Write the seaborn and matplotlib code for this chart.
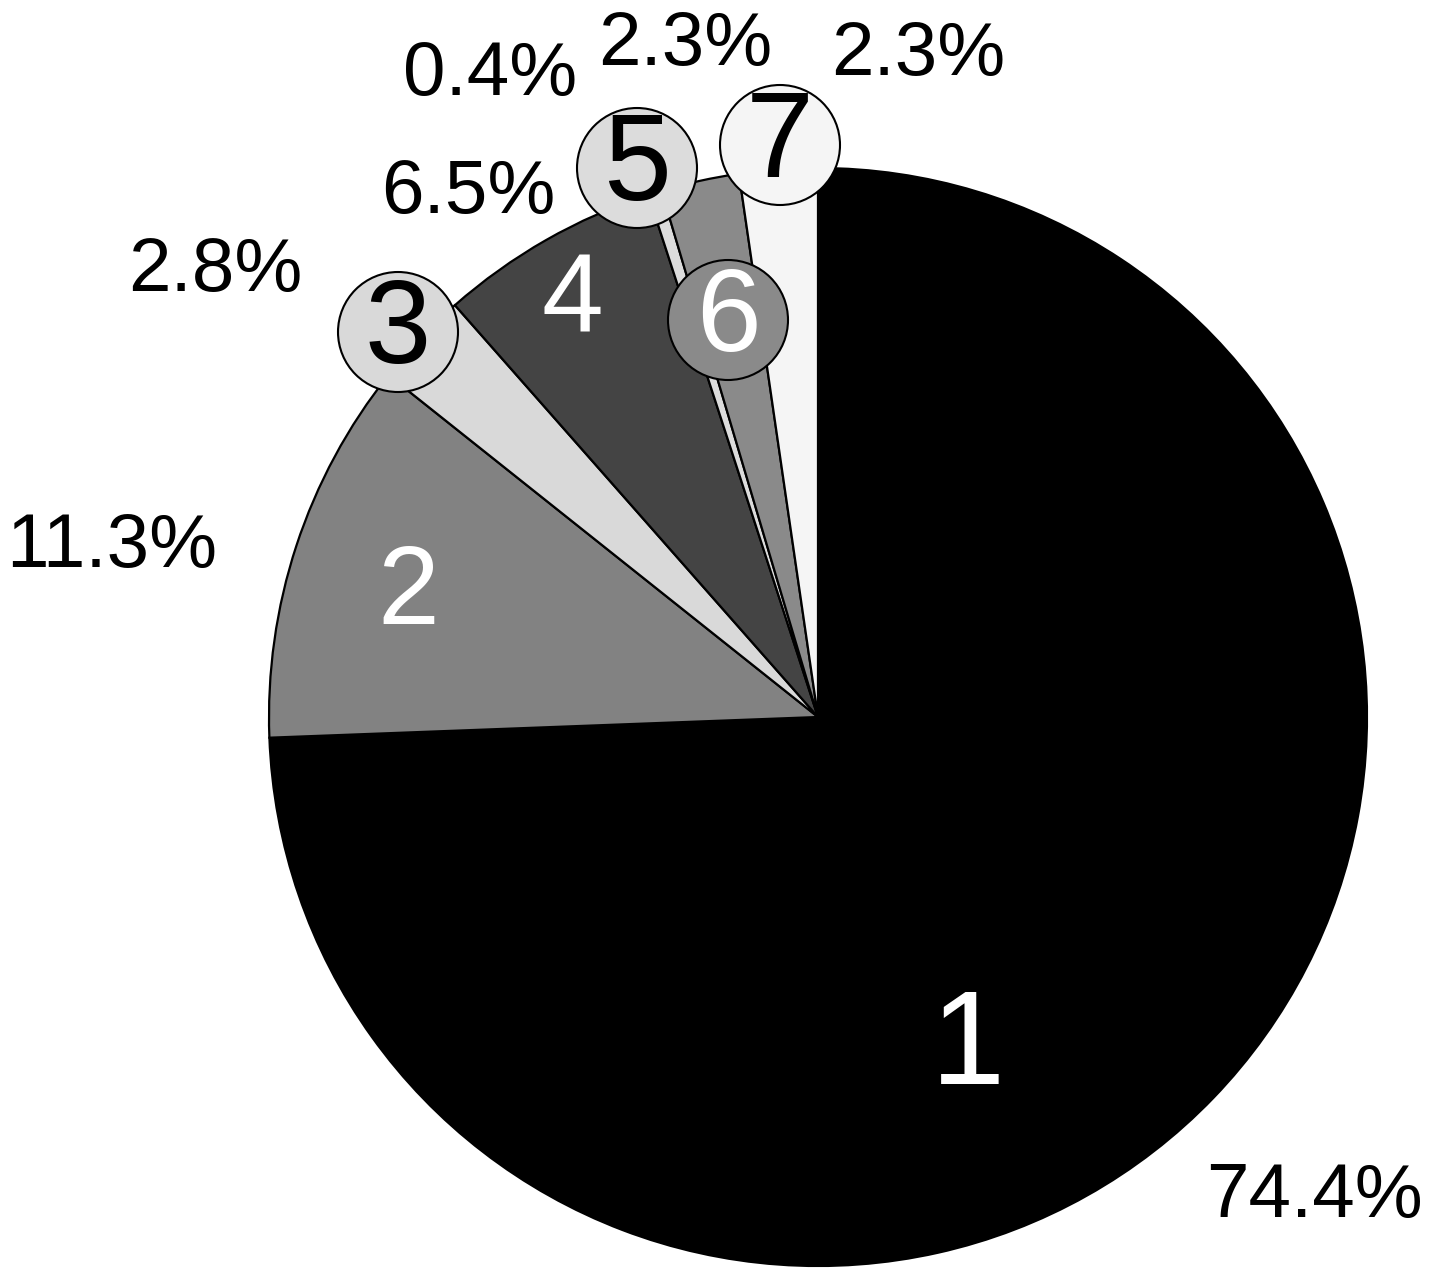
import matplotlib
matplotlib.use("Agg")
import matplotlib.pyplot as plt
from matplotlib.patches import Circle
import seaborn as sns

# ---- data ----
categories = ["1", "2", "3", "4", "5", "6", "7"]
shares = [74.4, 11.3, 2.8, 6.5, 0.4, 2.3, 2.3]
pct_labels = ["74.4%", "11.3%", "2.8%", "6.5%", "0.4%", "2.3%", "2.3%"]

# ---- style ----
sns.set_theme(style="white")
plt.rcParams["font.family"] = ["Liberation Sans", "DejaVu Sans"]

slice_colors = ["#000000", "#828282", "#d9d9d9", "#444444", "#dcdcdc", "#8a8a8a", "#f5f5f5"]
num_colors = ["white", "white", "black", "white", "black", "white", "black"]

W, H = 1434, 1279
fig = plt.figure(figsize=(W / 100, H / 100), dpi=100)
ax = fig.add_axes([0, 0, 1, 1])

cx, cy, R = 818, H - 717, 549
ax.pie(shares, colors=slice_colors, startangle=90, counterclock=False,
       center=(cx, cy), radius=R, frame=True,
       wedgeprops=dict(edgecolor="black", linewidth=1.6))
ax.set_xlim(0, W)
ax.set_ylim(0, H)
ax.axis("off")

# number labels: (x, y in image px, circled?, fontsize)
num_pos = [(968, 1050, False, 96), (408, 595, False, 80), (398, 332, True, 86),
           (572, 303, False, 80), (637, 168, True, 88), (728, 320, True, 84),
           (780, 145, True, 88)]
for cat, (x, y, circ, fs), fc, tc in zip(categories, num_pos, slice_colors, num_colors):
    if circ:
        ax.add_patch(Circle((x, H - y), 60, facecolor=fc, edgecolor="black",
                            linewidth=1.5, zorder=5))
    ax.text(x, H - y, cat, ha="center", va="center", fontsize=fs,
            color=tc, zorder=6)

pct_pos = [(1315, 1198), (112, 548), (215, 272), (468, 193), (490, 75),
           (685, 45), (918, 55)]
for lab, (x, y) in zip(pct_labels, pct_pos):
    ax.text(x, H - y, lab, ha="center", va="center", fontsize=55,
            color="black", zorder=6)

fig.savefig("out.png", dpi=100)
